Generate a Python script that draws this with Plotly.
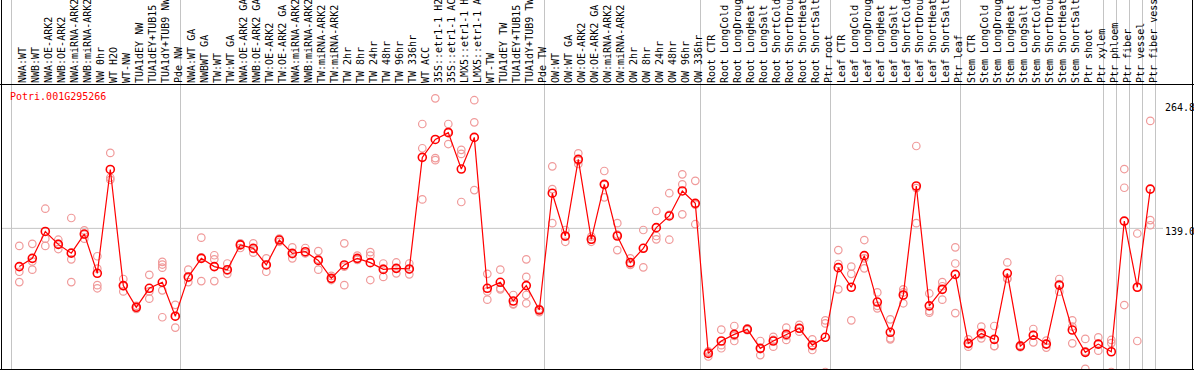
import plotly.graph_objects as go

# ---- data -------------------------------------------------------------
title_text = "Potri.001G295266"

samples = [
    "NWA:WT", "NWB:WT", "NWA:OE-ARK2", "NWB:OE-ARK2", "NWA:miRNA-ARK2", "NWB:miRNA-ARK2",
    "NW 0hr", "WT H2O", "WT-NW", "TUA1dEY NW", "TUA1dEY+TUB15 NW", "TUA1dY+TUB9 NW", "Pde NW",
    "NWA:WT GA", "NWBWT GA", "TW:WT", "TW:WT GA", "NWA:OE-ARK2 GA", "NWB:OE-ARK2 GA",
    "TW:OE-ARK2", "TW:OE-ARK2 GA", "NWA:miRNA-ARK2", "NWB:miRNA-ARK2", "TW:miRNA-ARK2",
    "TW:miRNA-ARK2 GA", "TW 2hr", "TW 8hr", "TW 24hr", "TW 48hr", "TW 96hr", "TW 336hr",
    "WT ACC", "35S::etr1-1 H2O", "35S::etr1-1 ACC", "LMX5::etr1-1 H2O", "LMX5::etr1-1 ACC",
    "WT-TW", "TUA1dEY TW", "TUA1dEY+TUB15 TW", "TUA1dY+TUB9 TW", "Pde TW",
    "OW:WT", "OW:WT GA", "OW:OE-ARK2", "OW:OE-ARK2 GA", "OW:miRNA-ARK2", "OW:miRNA-ARK2 GA",
    "OW 2hr", "OW 8hr", "OW 24hr", "OW 48hr", "OW 96hr", "OW 336hr",
    "Root CTR", "Root LongCold", "Root LongDrought", "Root LongHeat", "Root LongSalt",
    "Root ShortCold", "Root ShortDrought", "Root ShortHeat", "Root ShortSalt", "Ptr root",
    "Leaf CTR", "Leaf LongCold", "Leaf LongDrought", "Leaf LongHeat", "Leaf LongSalt",
    "Leaf ShortCold", "Leaf ShortDrought", "Leaf ShortHeat", "Leaf ShortSalt", "Ptr leaf",
    "Stem CTR", "Stem LongCold", "Stem LongDrought", "Stem LongHeat", "Stem LongSalt",
    "Stem ShortCold", "Stem ShortDrought", "Stem ShortHeat", "Stem ShortSalt", "Ptr shoot",
    "Ptr xylem", "Ptr phloem", "Ptr fiber", "Ptr vessel", "Ptr fiber vessel",
]

mean_values = [
    102, 110, 136, 123.5, 115, 133.5, 95.5, 196, 83.6, 62.6, 81, 86.8, 54,
    92, 110, 102, 99, 123, 119.7, 103.6, 127.7, 114.8, 116.4, 108, 90.6,
    103.6, 110, 105.8, 99.3, 100.3, 99.7, 207.7, 225, 231.6, 196.4, 227,
    81, 86.8, 68.7, 83.6, 60,
    173, 131.6, 205.8, 128.4, 181.6, 131.6, 105.8, 119.7, 139.7, 151, 175.2, 163.2,
    18, 30, 36.4, 41.3, 22.9, 30, 36.4, 42.3, 26, 33.6,
    101, 82, 112.6, 67.7, 38.4, 74.5, 180, 64, 80, 94.5,
    27.7, 37.4, 31.6, 95.5, 25, 35.5, 27, 84, 40.6, 19,
    27, 19.6, 146, 82, 177,
]

replicates = [
    [122, 97, 87], [124, 107, 99], [158, 129, 122], [128, 124, 119], [149, 109, 87],
    [137, 133, 129], [112, 100, 84, 81], [212, 188, 186], [90, 83, 78], [64, 62, 61],
    [94, 78, 71], [106.5, 104, 101, 79, 53], [65, 54, 43],
    [99, 91, 87], [130, 111, 88], [113, 109, 88], [105, 98, 95], [124.5, 124, 120],
    [124.5, 119, 115.5], [110, 104, 97], [129, 128, 126], [120.6, 114, 110],
    [120, 115, 115], [117, 109, 99], [93, 90, 89], [124.5, 102, 84], [112.6, 109, 108.4],
    [116, 112.6, 89], [105, 100, 92], [106, 100, 95.5], [105, 99, 94.5],
    [240, 216.5, 167], [264.8, 207, 205], [240, 232.6, 220.6], [215, 211, 164.5],
    [263, 241.6, 176], [95, 78, 70], [99, 81, 80], [74.5, 66, 65.5],
    [109, 92, 74.5, 66.5], [61, 60, 58],
    [199, 177, 144], [137.4, 131, 126], [211.6, 204.5, 201.3], [131, 128, 126],
    [194.5, 181, 169], [144, 133, 118], [110, 104, 103.6], [137.4, 120, 101.3],
    [155.8, 131.6, 128.4], [173, 152, 128], [191.3, 181.6, 152.6], [185, 162, 143],
    [20, 19, 15], [41, 26, 23], [44.5, 35, 30], [42.3, 41, 40.5], [30, 22, 16.4],
    [34, 31, 24.5], [43, 35, 31], [45.6, 42, 39], [31.6, 25, 21.3], [50, 47, 0],
    [118, 104.5, 80], [102, 95, 50], [127.7, 110, 100.3], [77, 64, 61.6],
    [51, 32.6, 31.6], [80, 77, 66.5], [218.7, 178, 144], [76, 59, 57.4], [87, 83, 70],
    [120.6, 105, 57],
    [31.6, 27, 24.5], [44, 36, 32.6], [44.5, 25.2, 25], [106, 90.6, 90], [26, 25, 24],
    [41.6, 36, 28.7], [30.3, 27.3, 23.6], [90, 85, 77.7], [50, 44, 27.7], [32, 20, 3],
    [33.5, 27, 20.6], [31, 28, 0], [196.4, 178.3, 64.8], [134, 82, 30], [243, 147, 142],
]

# index of the last sample in each group (a separator follows it)
group_ends = [-1, 12, 40, 52, 62, 72, 83, 84, 85, 86, 87]

axis_labels = ["264.8", "139.0", "0"]
axis_values = [264.8, 139.0, 0]
reference_line = 139.0

# ---- figure -----------------------------------------------------------
W, H = 1194, 370
TOP = 85
FONT = "DejaVu Sans Mono"

x_idx = list(range(len(samples)))
tick_text = [s[:14] for s in samples]

rep_x, rep_y = [], []
for i, reps in enumerate(replicates):
    for v in reps:
        rep_x.append(i)
        rep_y.append(v)

fig = go.Figure()
fig.add_trace(go.Scatter(
    x=rep_x, y=rep_y, mode="markers",
    marker=dict(symbol="circle-open", size=7.5, color="#f09a9a", line=dict(width=1.2)),
    hoverinfo="skip", showlegend=False,
))
fig.add_trace(go.Scatter(
    x=x_idx, y=mean_values, mode="lines+markers",
    line=dict(color="#ff0000", width=1.2),
    marker=dict(symbol="circle-open", size=8, color="#ff0000", line=dict(width=1.6)),
    showlegend=False,
))

# x-mapping: 13 px per sample, first sample at 19.3 px
px_per = 13.0
x0 = -19.3 / px_per
x1 = x0 + W / px_per
# y-mapping: value v -> pixel 372 - 1.0334 v (plot area 85..370)
k = 1.0334
y_lo = (372 - H) / k
y_hi = (372 - TOP) / k

ptop = (H - 0) / (H - TOP)  # paper y for figure top

shapes = []
for g in group_ends:
    shapes.append(dict(type="line", xref="x", yref="paper", x0=g + 0.4, x1=g + 0.4,
                       y0=0, y1=ptop, line=dict(color="#c4c4c4", width=1), layer="below"))
shapes.append(dict(type="line", xref="paper", yref="y", x0=1 / W, x1=1163 / W,
                   y0=reference_line, y1=reference_line,
                   line=dict(color="#c4c4c4", width=1), layer="below"))
# frame
shapes += [
    dict(type="line", xref="paper", yref="paper", x0=1.5 / W, x1=1.5 / W, y0=0, y1=ptop,
         line=dict(color="black", width=1)),
    dict(type="line", xref="paper", yref="paper", x0=1192.5 / W, x1=1192.5 / W, y0=0, y1=ptop,
         line=dict(color="black", width=1)),
    dict(type="line", xref="paper", yref="paper", x0=0, x1=1, y0=0.5 / (H - TOP), y1=0.5 / (H - TOP),
         line=dict(color="black", width=1)),
    dict(type="line", xref="paper", yref="paper", x0=0, x1=1, y0=1 + 0.5 / (H - TOP), y1=1 + 0.5 / (H - TOP),
         line=dict(color="black", width=1)),
]

annotations = [dict(text=title_text, xref="paper", yref="paper", x=8 / W, y=(H - 96) / (H - TOP),
                    xanchor="left", yanchor="middle", showarrow=False,
                    font=dict(family=FONT, size=10, color="#ff0000"))]
shifts = [-8.9, -3.6, 10.3]
for lab, val, sh in zip(axis_labels, axis_values, shifts):
    annotations.append(dict(text=lab, xref="paper", yref="y", x=1162.5 / W, y=val, yshift=sh,
                            xanchor="left", yanchor="middle", showarrow=False,
                            font=dict(family=FONT, size=10, color="black")))

fig.update_layout(
    template="none",
    width=W, height=H,
    margin=dict(l=0, r=0, t=TOP, b=0, pad=0),
    paper_bgcolor="white", plot_bgcolor="white",
    shapes=shapes, annotations=annotations,
    xaxis=dict(range=[x0, x1], side="top", tickmode="array", tickvals=x_idx, ticktext=tick_text,
               tickangle=-90, tickfont=dict(family=FONT, size=10, color="black"),
               showgrid=False, zeroline=False, showline=False, ticks="", automargin=False,
               ticklabelstandoff=1, ticklabelshift=3, ticklabeloverflow="allow", fixedrange=True),
    yaxis=dict(range=[y_lo, y_hi], showgrid=False, zeroline=False, showline=False,
               showticklabels=False, ticks="", automargin=False, fixedrange=True),
    font=dict(family=FONT, size=10),
)

fig.write_html(
    "out.html",
    config={"displayModeBar": False},
    post_script="document.body.style.margin='0px';document.body.style.overflow='hidden';",
)
